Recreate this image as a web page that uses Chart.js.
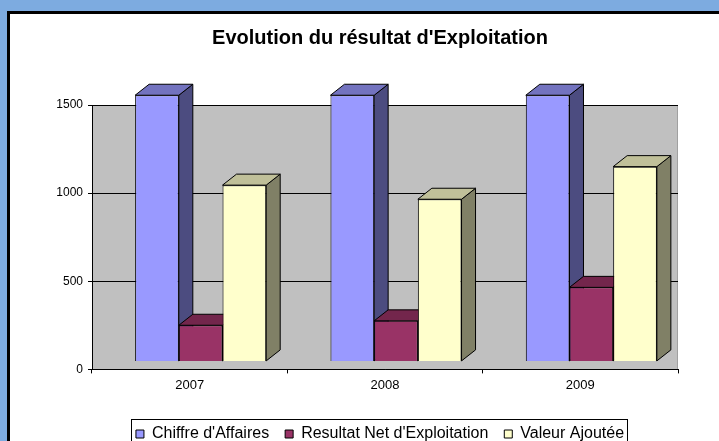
<!DOCTYPE html>
<html>
<head>
<meta charset="utf-8">
<script src="https://cdn.jsdelivr.net/npm/chart.js@4.4.0/dist/chart.umd.min.js"></script>
<style>
    html, body { margin: 0; padding: 0; width: 719px; height: 441px; overflow: hidden; background: #7dabe0; }
    #panel { position: absolute; left: 7px; top: 11px; width: 800px; height: 500px; background: #fff;
             border-left: 3px solid #000; border-top: 3px solid #000; }
    #chart { position: absolute; left: 0; top: 0; }
</style>
</head>
<body>
<div id="panel"><canvas id="chart" width="740" height="438"></canvas></div>
<script>
// Chart data
const years = ['2007', '2008', '2009'];
const chiffreAffaires = [1510, 1510, 1510];
const resultatNet = [205, 230, 420];
const valeurAjoutee = [1000, 920, 1105];
const yTicks = [0, 500, 1000, 1500];

const FONT = 'Liberation Sans, Arial, sans-serif';

// 3D look: depth of each column and shift of the columns inside the wall
const DEPTH_X = 14, DEPTH_Y = 11;
const SHIFT_X = 11, SHIFT_Y = -8;

// shaded faces for each series
const faces = [
    { top: '#7373bf', side: '#4c4c80' },
    { top: '#73264c', side: '#4c1933' },
    { top: '#c0c099', side: '#808066' }
];

const wall3d = {
    id: 'wall3d',
    beforeDraw(chart) {
        const { ctx, chartArea: a } = chart;
        ctx.save();
        ctx.fillStyle = '#c0c0c0';
        ctx.fillRect(a.left, a.top, a.right - a.left, a.bottom - a.top);
        ctx.strokeStyle = '#a0a0a0';
        ctx.beginPath();
        ctx.moveTo(a.right - 0.5, a.top);
        ctx.lineTo(a.right - 0.5, a.bottom);
        ctx.stroke();
        ctx.restore();
    },
    // draw each column as side + top + front, series by series
    beforeDatasetsDraw(chart) {
        const ctx = chart.ctx;
        ctx.save();
        ctx.translate(SHIFT_X, SHIFT_Y);
        chart.data.datasets.forEach((ds, i) => {
            const meta = chart.getDatasetMeta(i);
            meta.data.forEach(bar => {
                const { x, y, base, width } = bar.getProps(['x', 'y', 'base', 'width'], true);
                const l = x - width / 2, r = x + width / 2;
                ctx.lineWidth = 1;
                ctx.strokeStyle = '#000';
                ctx.fillStyle = faces[i].side;
                ctx.beginPath();
                ctx.moveTo(r, y);
                ctx.lineTo(r + DEPTH_X, y - DEPTH_Y);
                ctx.lineTo(r + DEPTH_X, base - DEPTH_Y);
                ctx.lineTo(r, base);
                ctx.closePath();
                ctx.fill();
                ctx.stroke();
                ctx.fillStyle = faces[i].top;
                ctx.beginPath();
                ctx.moveTo(l, y);
                ctx.lineTo(l + DEPTH_X, y - DEPTH_Y);
                ctx.lineTo(r + DEPTH_X, y - DEPTH_Y);
                ctx.lineTo(r, y);
                ctx.closePath();
                ctx.fill();
                ctx.stroke();
                bar.draw(ctx);
            });
        });
        ctx.restore();
        return false;
    },
    // box round the legend
    afterDraw(chart) {
        const hb = chart.legend.legendHitBoxes;
        if (!hb || !hb.length) return;
        const last = hb[hb.length - 1];
        const mid = hb[0].top + hb[0].height / 2;
        const left = Math.round(hb[0].left) - 4.5;
        const right = Math.round(last.left + last.width) + 3.5;
        const top = Math.round(mid - 15) + 0.5;
        const ctx = chart.ctx;
        ctx.save();
        ctx.strokeStyle = '#000';
        ctx.lineWidth = 1;
        ctx.strokeRect(left, top, right - left, chart.height + 10 - top);
        ctx.restore();
    }
};

new Chart(document.getElementById('chart'), {
    type: 'bar',
    data: {
        labels: years,
        datasets: [
            { label: "Chiffre d'Affaires", data: chiffreAffaires, backgroundColor: '#9999ff' },
            { label: "Resultat Net d'Exploitation", data: resultatNet, backgroundColor: '#993366' },
            { label: 'Valeur Ajoutée', data: valeurAjoutee, backgroundColor: '#ffffcc' }
        ]
    },
    options: {
        responsive: false,
        animation: false,
        datasets: {
            bar: { borderColor: '#000', borderWidth: 1, categoryPercentage: 0.671, barPercentage: 1 }
        },
        plugins: {
            title: {
                display: true,
                text: "Evolution du résultat d'Exploitation",
                color: '#000',
                font: { family: FONT, size: 20, weight: 'bold' },
                padding: { top: 12, bottom: 55 }
            },
            legend: {
                position: 'bottom',
                labels: { color: '#000', boxWidth: 8, boxHeight: 8, padding: 16, font: { family: FONT, size: 16 } }
            },
            tooltip: { enabled: false }
        },
        scales: {
            x: {
                grid: { offset: true, drawOnChartArea: false, color: '#000', tickLength: 4 },
                border: { color: '#000' },
                ticks: { color: '#000', padding: 4, font: { family: FONT, size: 13 } },
                afterFit: s => { s.height = 40.6; }
            },
            y: {
                min: 0,
                max: 1500,
                grid: { color: '#000', tickLength: 4 },
                border: { color: '#000' },
                ticks: { color: '#000', padding: 5, font: { family: FONT, size: 12 }, callback: v => String(v) },
                afterBuildTicks: s => { s.ticks = yTicks.map(v => ({ value: v })); },
                afterFit: s => { s.width = 82; }
            },
            yRight: {
                type: 'linear',
                position: 'right',
                grid: { display: false },
                border: { display: false },
                ticks: { display: false },
                afterFit: s => { s.width = 72; }
            }
        }
    },
    plugins: [wall3d]
});
</script>
</body>
</html>
